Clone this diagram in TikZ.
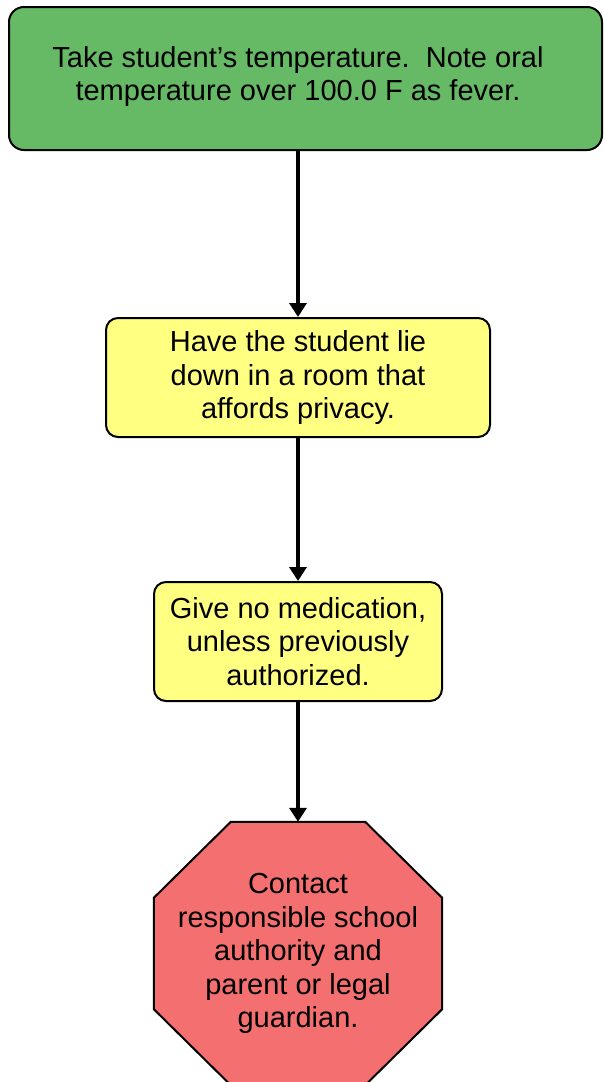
\documentclass[tikz,border=0pt]{standalone}
\usepackage{fontspec}
\setmainfont{Liberation Sans}
\usetikzlibrary{arrows.meta,backgrounds}
\definecolor{stepgreen}{RGB}{102,186,102}
\definecolor{stepyellow}{RGB}{255,255,130}
\definecolor{stopred}{RGB}{244,112,112}
\begin{document}
\begin{tikzpicture}[x=1pt,y=-1pt,
  box/.style={draw=black, line width=2pt, rounded corners=12pt, inner sep=0pt, align=center},
  txt/.style={font=\fontsize{29}{33.4}\selectfont, align=center, inner sep=0pt},
  flow/.style={line width=3.6pt, -{Triangle[length=14pt,width=17pt]}}]
\useasboundingbox (0,0) rectangle (603,1082);
% first step: green rounded box, text set a little left of centre
\node[box, fill=stepgreen, rounded corners=15pt, minimum width=593pt, minimum height=143pt] (s1) at (305.5,78.5) {};
\node[txt] (t1) at (298,76.5) {Take student’s temperature.\ \ Note oral\\temperature over 100.0 F as fever.};
% yellow steps
\node[box, txt, fill=stepyellow, minimum width=384pt, minimum height=119pt] (s2) at (298,377.5)
  {Have the student lie\\down in a room that\\affords privacy.};
\node[box, txt, fill=stepyellow, minimum width=288pt, minimum height=119pt] (s3) at (298,641.5)
  {Give no medication,\\unless previously\\authorized.};
% final step: red octagon
\node[txt, minimum width=288pt, minimum height=263pt] (s4) at (298,953.5)
  {Contact\\responsible school\\authority and\\parent or legal\\guardian.};
\begin{scope}[on background layer]
\draw[line width=2pt, fill=stopred, line join=miter]
  ([xshift=77pt]s4.north west) -- ([xshift=-77pt]s4.north east)
  -- ([yshift=-76pt]s4.north east) -- ([yshift=76pt]s4.south east)
  -- ([xshift=-77pt]s4.south east) -- ([xshift=77pt]s4.south west)
  -- ([yshift=76pt]s4.south west) -- ([yshift=-76pt]s4.north west) -- cycle;
\end{scope}
% connectors
\draw[flow] (s2.north |- s1.south) -- (s2.north);
\draw[flow] (s2.south) -- (s3.north);
\draw[flow] (s3.south) -- (s4.north);
\end{tikzpicture}
\end{document}
